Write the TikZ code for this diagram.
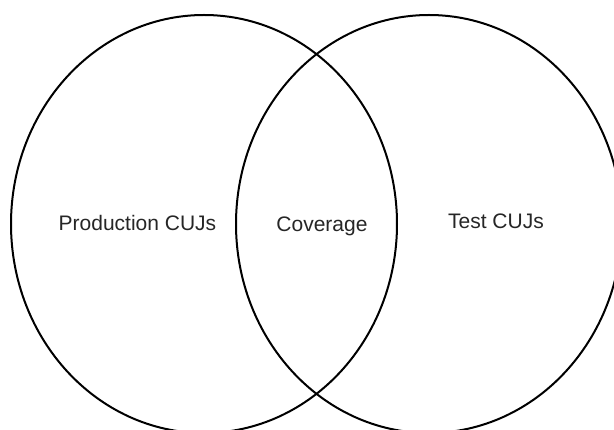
\documentclass[tikz,border=0pt]{standalone}
\usepackage{fontspec}
\setmainfont{Liberation Sans}
\usetikzlibrary{shapes.geometric}
\begin{document}
\begin{tikzpicture}[x=1pt,y=-1pt,
  venn/.style={ellipse,draw=black,line width=2pt,minimum width=386pt,minimum height=418pt,inner sep=0pt},
  lbl/.style={anchor=base,font=\fontsize{21}{25}\selectfont,text=black!85,inner sep=0pt}]
\clip (0,0) rectangle (614,430);
\fill[white] (0,0) rectangle (614,430);
\node[venn] (prod) at (204,224) {};
\node[venn] (test) at (429,224) {};
\node[lbl] (prodlbl) at (137.5,231) {Production CUJs};
\node[lbl] (cov) at (322,232) {Coverage};
\node[lbl] (testlbl) at (496,229) {Test CUJs};
\end{tikzpicture}
\end{document}
